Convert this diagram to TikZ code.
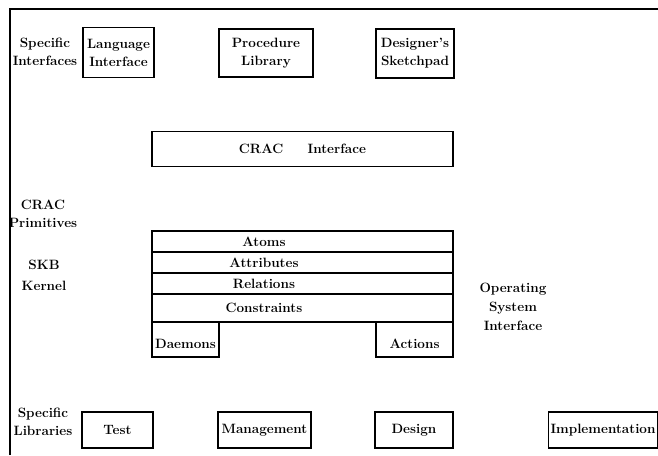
\documentclass[tikz,border=0pt]{standalone}
\usepackage{tikz}
\usetikzlibrary{positioning}

\begin{document}
\begin{tikzpicture}[x=1pt,y=-1pt]
\tikzset{font={\fontsize{13.5}{18}\selectfont\bfseries}}
\tikzset{box/.style={draw,line width=1.2pt,inner sep=1pt,align=center}}
\tikzset{lbl/.style={align=center,inner sep=0pt}}
\useasboundingbox (0,0) rectangle (658,455);
%Frame
\draw[line width=1.2pt] (10,455) -- (10,9) -- (658,9);

%Specific interfaces
\node[lbl] (specint) at (45,52) {Specific\\Interfaces};
\node[box,minimum width=71pt,minimum height=50pt] (lang) at (118.5,52.5) {Language\\Interface};
\node[box,minimum width=94pt,minimum height=48pt] (proc) at (266,53) {Procedure\\Library};
\node[box,minimum width=78pt,minimum height=49pt] (sketch) at (415,53.5) {Designer's\\Sketchpad};

%CRAC
\node[box,minimum width=301pt,minimum height=35pt] (crac) at (302.5,149) {CRAC\hspace{1.8em}Interface};
\node[lbl] (cracprim) at (43,214) {CRAC\\Primitives};

%SKB kernel
\node[lbl] (skb) at (44,275.5) {SKB\\[3pt]Kernel};
\foreach \top/\bot/\name/\txt in {231/252/atoms/Atoms,252/273/attrs/Attributes,273/294/rels/Relations,294/322/cons/Constraints}
{
\draw[line width=1.2pt] (152,\top) rectangle (453,\bot);
\node[lbl] (\name) at (264,{(\top+\bot)/2}) {\txt};
}
\node[box,minimum width=67pt,minimum height=35pt,
  label={[lbl,yshift=-4pt]center:Daemons}] (daemons) at (185.5,339.5) {};
\node[box,minimum width=77pt,minimum height=35pt,
  label={[lbl,yshift=-4pt]center:Actions}] (actions) at (414.5,339.5) {};
\node[lbl] (os) at (513,306.5) {Operating\\[1pt]System\\[1pt]Interface};

%Specific libraries
\node[lbl] (speclib) at (43,422) {Specific\\Libraries};
\node[box,minimum width=71pt,minimum height=36pt] (test) at (117.5,430) {Test};
\node[box,minimum width=93pt,minimum height=36pt] (mgmt) at (264.5,430) {Management};
\node[box,minimum width=78pt,minimum height=36pt] (design) at (414,430) {Design};
\node[box,minimum width=109pt,minimum height=36pt,inner sep=0pt] (impl) at (603,430) {Implementation};

\end{tikzpicture}
\end{document}
